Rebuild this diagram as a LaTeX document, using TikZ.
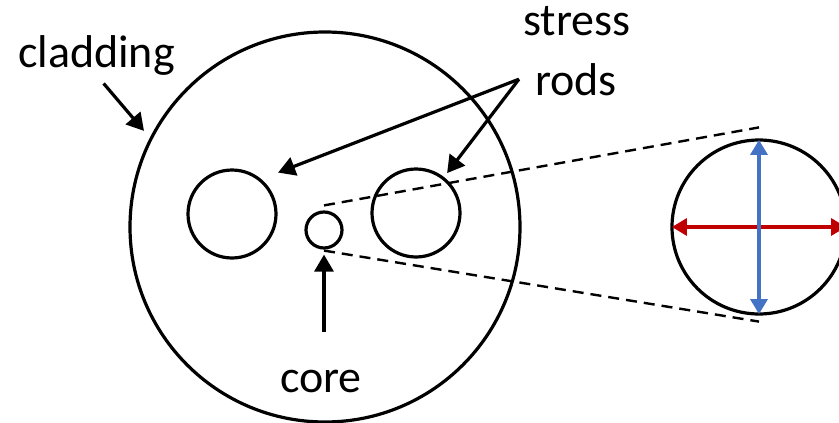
\documentclass[tikz,border=0pt]{standalone}
\usepackage{fontspec}
\setmainfont{Carlito}
\usetikzlibrary{arrows.meta,positioning}

\definecolor{fastred}{HTML}{C00000}
\definecolor{slowblue}{HTML}{4472C4}

\begin{document}
\begin{tikzpicture}[
    x=1pt, y=-1pt,
    ring/.style={draw, circle, line width=3.2pt, inner sep=0pt},
    label/.style={inner sep=0pt, anchor=base, font=\fontsize{46}{55}\selectfont},
    arrow/.style={-{Triangle[length=17pt, width=19pt]}, line width=3.2pt},
    axis/.style={{Triangle[length=15pt, width=17pt]}-{Triangle[length=15pt, width=17pt]}, line width=3.2pt},
    guide/.style={line width=2.4pt, dash pattern=on 11pt off 7pt}
  ]
    \useasboundingbox (0,0) rectangle (839,423);

    \node[ring, minimum size=390pt] (fiber) at (325,227) {};
    \node[ring, minimum size=88pt] (rodL) at (232,214) {};
    \node[ring, minimum size=88pt] (rodR) at (416,213) {};
    \node[ring, minimum size=36pt] (core) at (324,230) {};
    \node[ring, minimum size=174pt] (zoom) at (759,227) {};

    \node[label] (cladding) at (96.5,67) {cladding};
    \node[label] (stress) at (577,35) {stress};
    \node[label] (rods) at (576,95) {rods};
    \node[label] (corelabel) at (321,392) {core};
    \coordinate (rodsfork) at ([xshift=-16pt]rods.west);

    \draw[guide] ([yshift=5pt]core.north) -- ([yshift=11pt]zoom.north);
    \draw[guide] ([yshift=-1pt]core.south) -- ([yshift=-6pt]zoom.south);

    \draw[arrow, shorten <=11pt, shorten >=9pt] (cladding.south) -- (fiber.153);
    \draw[arrow, shorten >=18pt] (rodsfork) -- (rodL.50);
    \draw[arrow, shorten >=5pt] (rodsfork) -- (rodR.52);
    \draw[arrow, shorten <=37pt, shorten >=5pt] (core.south |- corelabel.north) -- (core.south);

    \draw[axis, fastred, shorten <=1.5pt, shorten >=1.5pt] (zoom.west) -- (zoom.east);
    \draw[axis, slowblue, shorten <=1.5pt, shorten >=1.5pt] (zoom.north) -- (zoom.south);
  \end{tikzpicture}
\end{document}
